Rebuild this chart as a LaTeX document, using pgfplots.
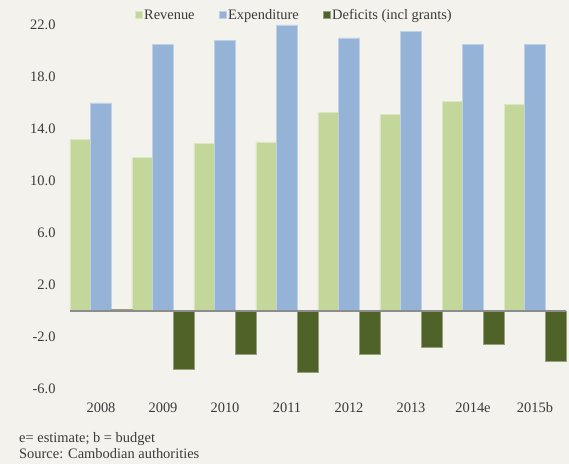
\documentclass[border=0pt]{standalone}
\usepackage{pgfplots}
\pgfplotsset{compat=1.18}
\usepackage{fontspec}
\setmainfont{Liberation Serif}
\definecolor{bg}{HTML}{F3F2EC}
\definecolor{rev}{HTML}{C4D79B}
\definecolor{expc}{HTML}{95B3D7}
\definecolor{defc}{HTML}{4F6228}
\definecolor{txt}{HTML}{3A3A3A}
\begin{document}
\begin{tikzpicture}[x=1bp,y=1bp]
\fill[bg] (0,0) rectangle (569,464);
\useasboundingbox (0,0) rectangle (569,464);
\begin{axis}[
  at={(70bp,75bp)}, anchor=south west,
  scale only axis, width=496bp, height=364bp,
  xmin=-0.5, xmax=7.5, ymin=-6, ymax=22,
  ybar=0pt, bar width=20.67bp,
  axis line style={draw=none}, major tick length=0pt,
  xtick={0,...,7},
  xticklabels={2008,2009,2010,2011,2012,2013,2014e,2015b},
  ytick={-6,-2,2,6,10,14,18,22},
  /pgf/number format/.cd, fixed, fixed zerofill, precision=1, assume math mode=true,
  /pgfplots/.cd,
  ticklabel style={font=\fontsize{14.5}{17}\selectfont, text=txt},
  xticklabel style={yshift=-10bp},
  yticklabel style={xshift=-11bp},
  clip=false,
  legend style={at={(0.452,1.027)}, anchor=center, draw=none, fill=none,
    font=\fontsize{14.5}{17}\selectfont, text=txt,
    /tikz/every even column/.append style={column sep=22bp}},
  legend columns=3,
  legend image code/.code={\fill[#1] (0bp,-3.5bp) rectangle (7bp,3.5bp);},
]
\addplot[fill=rev, draw=rev!60!white, line width=0.5bp] coordinates {
 (0,13.2) (1,11.8) (2,12.9) (3,13.0) (4,15.3) (5,15.1) (6,16.1) (7,15.9)};
\addplot[fill=expc, draw=expc!60!white, line width=0.5bp] coordinates {
 (0,16.0) (1,20.5) (2,20.8) (3,22.0) (4,21.0) (5,21.5) (6,20.5) (7,20.5)};
\addplot[fill=defc, draw=defc!60!white, line width=0.5bp] coordinates {
 (0,0.15) (1,-4.5) (2,-3.3) (3,-4.7) (4,-3.35) (5,-2.8) (6,-2.55) (7,-3.85)};
\legend{Revenue, Expenditure, Deficits (incl grants)}
\draw[black!45, line width=1.5bp] (axis cs:-0.5,0) -- (axis cs:7.5,0);
\end{axis}
\node[anchor=base west, font=\fontsize{14.5}{17}\selectfont, text=txt, inner sep=0pt] at (19,21) {e= estimate; b = budget};
\node[anchor=base west, font=\fontsize{14.5}{17}\selectfont, text=txt, inner sep=0pt] at (19,5) {Source: Cambodian authorities};
\end{tikzpicture}
\end{document}
